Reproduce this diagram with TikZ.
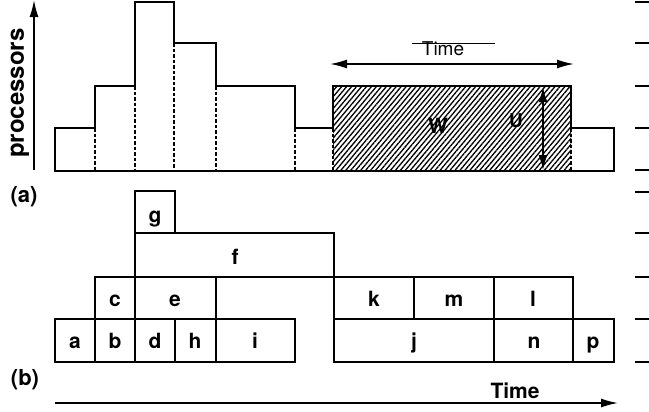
\documentclass[tikz,border=0pt]{standalone}
\usepackage{fontspec}
\setmainfont{TeX Gyre Heros}
\usetikzlibrary{arrows.meta,patterns.meta}
\begin{document}
\begin{tikzpicture}[x=1bp,y=-1bp,
  edge/.style={line width=2bp, line join=miter},
  dashline/.style={line width=2.2bp, dash pattern=on 3.5bp off 2bp},
  task/.style={draw, line width=2bp},
  lbl/.style={font=\fontsize{21bp}{25bp}\selectfont\bfseries, inner sep=0pt, anchor=base},
  tickmark/.style={line width=2bp},
  arr/.style={line width=1.6bp, -{Latex[length=17bp,width=9bp]}},
  darr/.style={line width=1.6bp, {Latex[length=17bp,width=9bp]}-{Latex[length=17bp,width=9bp]}},
  hatch/.style={pattern={Lines[angle=50,distance=3.8bp,line width=1.3bp]}},
]
\useasboundingbox (0,0) rectangle (649,411);

% ---------- (a) profile ----------
\fill[hatch] (333,86) rectangle (571,171);
\draw[edge] (55,171) -- (55,128) -- (95,128) -- (95,86) -- (135,86) -- (135,2) -- (174,2)
  -- (174,43) -- (216,43) -- (216,86) -- (295,86) -- (295,128) -- (333,128) -- (333,86)
  -- (571,86) -- (571,128) -- (614,128) -- (614,171) -- cycle;
\foreach \x/\y in {95/128, 135/86, 174/43, 216/86, 295/128, 333/128, 571/128}
  \draw[dashline] (\x,\y) -- (\x,171);

% processors axis
\coordinate (axb) at (34,170);
\coordinate (axt) at (34,0);
\draw[arr] (axb) -- (axt);
\node[font=\fontsize{24bp}{28bp}\selectfont\bfseries, rotate=90, inner sep=0pt] (proc) at (20,93) {processors};

% Time double arrow
\coordinate (tl) at (330,64);
\coordinate (tr) at (574,64);
\draw[darr] (tl) -- (tr);
\node[font=\fontsize{19bp}{23bp}\selectfont, inner sep=0pt, anchor=base] (ttop) at (443,55) {Time};
\draw[line width=1bp] (412,43) -- (495,43);

% W and U
\node[font=\fontsize{21bp}{25bp}\selectfont\bfseries, inner sep=0pt] (w) at (438,126) {W};
\node[font=\fontsize{19bp}{23bp}\selectfont\bfseries, inner sep=0pt] (u) at (516,121) {U};
\coordinate (ut) at (543,87);
\coordinate (ub) at (543,170);
\draw[line width=1.6bp, {Latex[length=15bp,width=9bp]}-{Latex[length=15bp,width=9bp]}] (ut) -- (ub);

% right ticks
\foreach \y in {2,43,86,128,170,192,233,277,319,362}
  \draw[tickmark] (635,\y) -- (649,\y);

% panel labels
\node[font=\fontsize{22bp}{26bp}\selectfont\bfseries, inner sep=0pt, anchor=base] (pa) at (24,202) {(a)};
\node[font=\fontsize{22bp}{26bp}\selectfont\bfseries, inner sep=0pt, anchor=base] (pb) at (25,385) {(b)};

% ---------- (b) schedule ----------
\draw[task] (55,319) rectangle (95,362);
\draw[task] (95,319) rectangle (135,362);
\draw[task] (135,319) rectangle (175,362);
\draw[task] (175,319) rectangle (216,362);
\draw[task] (216,319) rectangle (295,362);
\draw[task] (95,277) rectangle (135,319);
\draw[task] (135,277) rectangle (216,319);
\draw[task] (135,233) rectangle (334,277);
\draw[task] (135,191) rectangle (175,233);
\draw[task] (334,277) rectangle (414,319);
\draw[task] (414,277) rectangle (494,319);
\draw[task] (494,277) rectangle (573,319);
\draw[task] (334,319) rectangle (494,362);
\draw[task] (494,319) rectangle (573,362);
\draw[task] (573,319) rectangle (614,362);

\node[lbl] (ta) at (75,348) {a};
\node[lbl] (tb) at (115,348) {b};
\node[lbl] (td) at (155,348) {d};
\node[lbl] (th) at (195,348) {h};
\node[lbl] (ti) at (255,348) {i};
\node[lbl] (tc) at (115,306) {c};
\node[lbl] (te) at (175,306) {e};
\node[lbl] (tf) at (235,264) {f};
\node[lbl] (tg) at (155,222) {g};
\node[lbl] (tk) at (374,306) {k};
\node[lbl] (tm) at (454,306) {m};
\node[lbl] (tl2) at (533,306) {l};
\node[lbl] (tj) at (414,348) {j};
\node[lbl] (tn) at (534,348) {n};
\node[lbl] (tp) at (593,348) {p};

% bottom time axis
\coordinate (bl) at (55,403);
\coordinate (br) at (618,403);
\draw[arr] (bl) -- (br);
\node[font=\fontsize{21bp}{25bp}\selectfont\bfseries, inner sep=0pt, anchor=base] (tbot) at (515,398) {Time};
\end{tikzpicture}
\end{document}
